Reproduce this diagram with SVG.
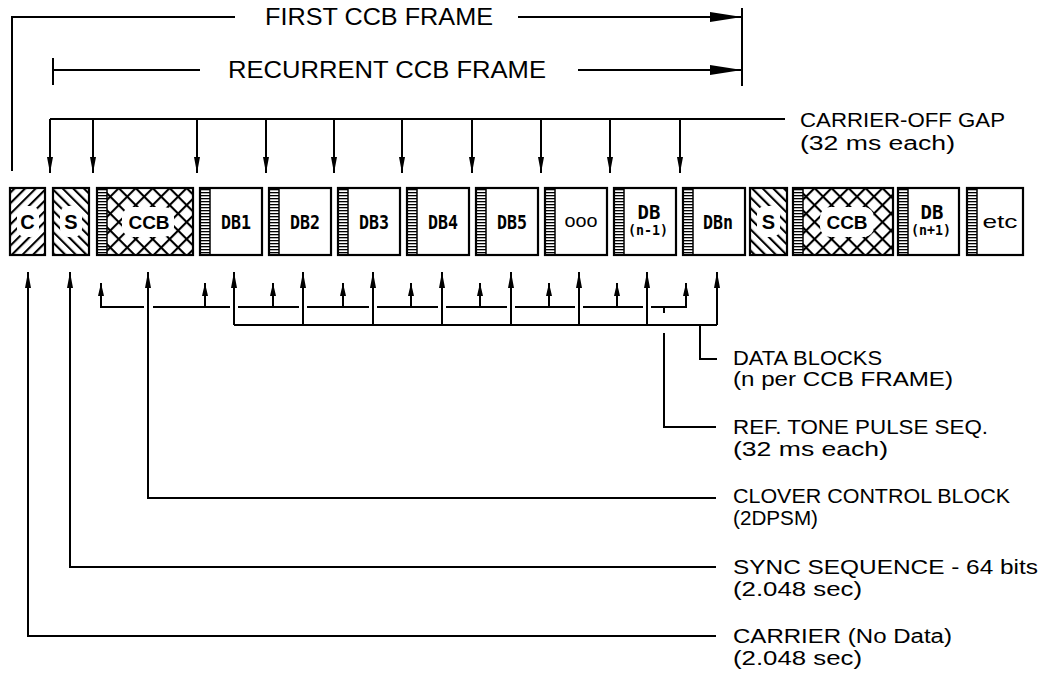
<svg xmlns="http://www.w3.org/2000/svg" width="1044" height="673" viewBox="0 0 1044 673">
<style>
.ln{fill:none;stroke:#000;stroke-width:2}
.bd{fill:none;stroke:#000;stroke-width:2.2}
.lbl{font-family:"Liberation Sans",Arial,sans-serif;font-size:20px;fill:#000}
.big{font-family:"Liberation Sans",Arial,sans-serif;font-size:23px;fill:#000}
.blk{font-family:"DejaVu Sans Mono","Liberation Mono",monospace;font-size:19px;font-weight:bold;fill:#000}
.blks{font-family:"DejaVu Sans Mono","Liberation Mono",monospace;font-size:14px;font-weight:bold;fill:#000}
.bsans{font-family:"Liberation Sans",Arial,sans-serif;font-size:20px;font-weight:bold;fill:#000}
.ccb{font-family:"Liberation Sans",Arial,sans-serif;font-size:19px;font-weight:bold;fill:#000}
.etc{font-family:"Liberation Sans",Arial,sans-serif;font-size:19px;fill:#000}
.up{marker-end:url(#ah)}
.ups{marker-end:url(#ahs)}
</style>
<defs>
<marker id="ah" viewBox="0 0 16 6" refX="16" refY="3" markerWidth="16" markerHeight="6" markerUnits="userSpaceOnUse" orient="auto"><path d="M0,0 L16,3 L0,6 z" fill="#000"/></marker>
<marker id="ahs" viewBox="0 0 13 6" refX="13" refY="3" markerWidth="13" markerHeight="6" markerUnits="userSpaceOnUse" orient="auto"><path d="M0,0 L13,3 L0,6 z" fill="#000"/></marker>
<marker id="ahb" viewBox="0 0 32 10" refX="32" refY="5" markerWidth="32" markerHeight="10" markerUnits="userSpaceOnUse" orient="auto"><path d="M0,0 L32,5 L0,10 z" fill="#000"/></marker>
<pattern id="hC" width="7.5" height="7.5" patternUnits="userSpaceOnUse" patternTransform="rotate(45)"><line x1="1" y1="0" x2="1" y2="7.5" stroke="#000" stroke-width="2.2"/></pattern>
<pattern id="hS" width="7.5" height="7.5" patternUnits="userSpaceOnUse" patternTransform="rotate(-45)"><line x1="1" y1="0" x2="1" y2="7.5" stroke="#000" stroke-width="2.2"/></pattern>
<pattern id="hX" width="12" height="12" patternUnits="userSpaceOnUse" patternTransform="rotate(45)"><line x1="1" y1="0" x2="1" y2="12" stroke="#000" stroke-width="2.2"/><line x1="0" y1="1" x2="12" y2="1" stroke="#000" stroke-width="2.2"/></pattern>
<pattern id="lad" width="10" height="3" patternUnits="userSpaceOnUse"><rect x="0" y="0" width="10" height="1.3" fill="#000"/></pattern>
</defs>
<rect width="1044" height="673" fill="#fff"/>

<g id="frame-labels">
<text class="big" x="265" y="25" textLength="228" lengthAdjust="spacingAndGlyphs">FIRST CCB FRAME</text>
<text class="big" x="228" y="78" textLength="318" lengthAdjust="spacingAndGlyphs">RECURRENT CCB FRAME</text>
<text class="lbl" x="800" y="127" textLength="205" lengthAdjust="spacingAndGlyphs">CARRIER-OFF GAP</text>
<text class="lbl" x="800" y="150" textLength="155" lengthAdjust="spacingAndGlyphs">(32 ms each)</text>
</g>

<g id="node-C">
<rect x="10" y="188" width="35" height="67" fill="url(#hC)"/>
<rect x="17" y="206" width="22" height="31" rx="8" fill="#fff"/>
<text class="bsans" x="27.5" y="229" text-anchor="middle">C</text>
<rect class="bd" x="10" y="188" width="35" height="67"/>
</g>
<g id="node-S">
<rect x="53" y="188" width="36" height="67" fill="url(#hS)"/>
<rect x="60" y="206" width="22" height="31" rx="8" fill="#fff"/>
<text class="bsans" x="71" y="229" text-anchor="middle">S</text>
<rect class="bd" x="53" y="188" width="36" height="67"/>
</g>
<g id="node-CCB">
<rect x="97" y="188" width="96" height="67" fill="url(#hX)"/>
<rect x="122" y="207" width="52" height="30" rx="10" fill="#fff"/>
<rect x="97" y="188" width="10" height="67" fill="#fff"/>
<rect x="98" y="189" width="9" height="65" fill="url(#lad)"/>
<line x1="107" y1="188" x2="107" y2="255" stroke="#000" stroke-width="1.5"/>
<text class="ccb" x="149" y="229" text-anchor="middle">CCB</text>
<rect class="bd" x="97" y="188" width="96" height="67"/>
</g>
<g id="node-DB1">
<rect x="200" y="188" width="62" height="67" fill="#fff"/>
<rect x="201" y="189" width="9" height="65" fill="url(#lad)"/>
<line x1="210" y1="188" x2="210" y2="255" stroke="#000" stroke-width="1.5"/>
<text class="blk" x="236" y="229" text-anchor="middle" textLength="30" lengthAdjust="spacingAndGlyphs">DB1</text>
<rect class="bd" x="200" y="188" width="62" height="67"/>
</g>
<g id="node-DB2">
<rect x="269" y="188" width="62" height="67" fill="#fff"/>
<rect x="270" y="189" width="9" height="65" fill="url(#lad)"/>
<line x1="279" y1="188" x2="279" y2="255" stroke="#000" stroke-width="1.5"/>
<text class="blk" x="305" y="229" text-anchor="middle" textLength="30" lengthAdjust="spacingAndGlyphs">DB2</text>
<rect class="bd" x="269" y="188" width="62" height="67"/>
</g>
<g id="node-DB3">
<rect x="338" y="188" width="62" height="67" fill="#fff"/>
<rect x="339" y="189" width="9" height="65" fill="url(#lad)"/>
<line x1="348" y1="188" x2="348" y2="255" stroke="#000" stroke-width="1.5"/>
<text class="blk" x="374" y="229" text-anchor="middle" textLength="30" lengthAdjust="spacingAndGlyphs">DB3</text>
<rect class="bd" x="338" y="188" width="62" height="67"/>
</g>
<g id="node-DB4">
<rect x="407" y="188" width="62" height="67" fill="#fff"/>
<rect x="408" y="189" width="9" height="65" fill="url(#lad)"/>
<line x1="417" y1="188" x2="417" y2="255" stroke="#000" stroke-width="1.5"/>
<text class="blk" x="443" y="229" text-anchor="middle" textLength="30" lengthAdjust="spacingAndGlyphs">DB4</text>
<rect class="bd" x="407" y="188" width="62" height="67"/>
</g>
<g id="node-DB5">
<rect x="476" y="188" width="62" height="67" fill="#fff"/>
<rect x="477" y="189" width="9" height="65" fill="url(#lad)"/>
<line x1="486" y1="188" x2="486" y2="255" stroke="#000" stroke-width="1.5"/>
<text class="blk" x="512" y="229" text-anchor="middle" textLength="30" lengthAdjust="spacingAndGlyphs">DB5</text>
<rect class="bd" x="476" y="188" width="62" height="67"/>
</g>
<g id="node-ooo">
<rect x="545" y="188" width="62" height="67" fill="#fff"/>
<rect x="546" y="189" width="9" height="65" fill="url(#lad)"/>
<line x1="555" y1="188" x2="555" y2="255" stroke="#000" stroke-width="1.5"/>
<text class="etc" x="581" y="227" text-anchor="middle" textLength="33" lengthAdjust="spacingAndGlyphs">ooo</text>
<rect class="bd" x="545" y="188" width="62" height="67"/>
</g>
<g id="node-DBn-1">
<rect x="614" y="188" width="62" height="67" fill="#fff"/>
<rect x="615" y="189" width="9" height="65" fill="url(#lad)"/>
<line x1="624" y1="188" x2="624" y2="255" stroke="#000" stroke-width="1.5"/>
<text class="blk" x="649" y="219" text-anchor="middle" font-size="17">DB</text>
<text class="blks" x="648" y="235" text-anchor="middle" textLength="40" lengthAdjust="spacingAndGlyphs">(n-1)</text>
<rect class="bd" x="614" y="188" width="62" height="67"/>
</g>
<g id="node-DBn">
<rect x="683" y="188" width="62" height="67" fill="#fff"/>
<rect x="684" y="189" width="9" height="65" fill="url(#lad)"/>
<line x1="693" y1="188" x2="693" y2="255" stroke="#000" stroke-width="1.5"/>
<text class="blk" x="718" y="229" text-anchor="middle" textLength="30" lengthAdjust="spacingAndGlyphs">DBn</text>
<rect class="bd" x="683" y="188" width="62" height="67"/>
</g>
<g id="node-S2">
<rect x="750" y="188" width="37" height="67" fill="url(#hS)"/>
<rect x="757" y="206" width="23" height="31" rx="8" fill="#fff"/>
<text class="bsans" x="768.5" y="229" text-anchor="middle">S</text>
<rect class="bd" x="750" y="188" width="37" height="67"/>
</g>
<g id="node-CCB2">
<rect x="793" y="188" width="100" height="67" fill="url(#hX)"/>
<rect x="820" y="207" width="54" height="30" rx="10" fill="#fff"/>
<rect x="793" y="188" width="10" height="67" fill="#fff"/>
<rect x="794" y="189" width="9" height="65" fill="url(#lad)"/>
<line x1="803" y1="188" x2="803" y2="255" stroke="#000" stroke-width="1.5"/>
<text class="ccb" x="847" y="229" text-anchor="middle">CCB</text>
<rect class="bd" x="793" y="188" width="100" height="67"/>
</g>
<g id="node-DBn1">
<rect x="898" y="188" width="61" height="67" fill="#fff"/>
<rect x="899" y="189" width="9" height="65" fill="url(#lad)"/>
<line x1="908" y1="188" x2="908" y2="255" stroke="#000" stroke-width="1.5"/>
<text class="blk" x="932" y="219" text-anchor="middle" font-size="17">DB</text>
<text class="blks" x="931" y="235" text-anchor="middle" textLength="40" lengthAdjust="spacingAndGlyphs">(n+1)</text>
<rect class="bd" x="898" y="188" width="61" height="67"/>
</g>
<g id="node-etc">
<rect x="967" y="188" width="56" height="67" fill="#fff"/>
<rect x="968" y="189" width="9" height="65" fill="url(#lad)"/>
<line x1="977" y1="188" x2="977" y2="255" stroke="#000" stroke-width="1.5"/>
<text class="etc" x="1000" y="228" text-anchor="middle" textLength="35" lengthAdjust="spacingAndGlyphs">etc</text>
<rect class="bd" x="967" y="188" width="56" height="67"/>
</g>

<g id="legend-labels">
<text class="lbl" x="733" y="365" textLength="149" lengthAdjust="spacingAndGlyphs">DATA BLOCKS</text>
<text class="lbl" x="733" y="386" textLength="220" lengthAdjust="spacingAndGlyphs">(n per CCB FRAME)</text>
<text class="lbl" x="733" y="434" textLength="255" lengthAdjust="spacingAndGlyphs">REF. TONE PULSE SEQ.</text>
<text class="lbl" x="733" y="456" textLength="155" lengthAdjust="spacingAndGlyphs">(32 ms each)</text>
<text class="lbl" x="733" y="503" textLength="277" lengthAdjust="spacingAndGlyphs">CLOVER CONTROL BLOCK</text>
<text class="lbl" x="733" y="525" textLength="85" lengthAdjust="spacingAndGlyphs">(2DPSM)</text>
<text class="lbl" x="733" y="574" textLength="305" lengthAdjust="spacingAndGlyphs">SYNC SEQUENCE - 64 bits</text>
<text class="lbl" x="733" y="596" textLength="129" lengthAdjust="spacingAndGlyphs">(2.048 sec)</text>
<text class="lbl" x="733" y="643" textLength="219" lengthAdjust="spacingAndGlyphs">CARRIER (No Data)</text>
<text class="lbl" x="733" y="665" textLength="129" lengthAdjust="spacingAndGlyphs">(2.048 sec)</text>
</g>

<g id="connectors">
<path class="ln" d="M12,171 V17 H235"/>
<path class="ln" d="M518,17 H742" marker-end="url(#ahb)"/>
<path class="ln" d="M742,8 V86"/>
<path class="ln" d="M53,58 V85 M53,70 H200"/>
<path class="ln" d="M578,70 H742" marker-end="url(#ahb)"/>
<path class="ln" d="M50,119 H785"/>
<path class="ln up" d="M50,119 V173"/>
<path class="ln up" d="M93,119 V173"/>
<path class="ln up" d="M197,119 V173"/>
<path class="ln up" d="M266,119 V173"/>
<path class="ln up" d="M334,119 V173"/>
<path class="ln up" d="M402,119 V173"/>
<path class="ln up" d="M472,119 V173"/>
<path class="ln up" d="M541,119 V173"/>
<path class="ln up" d="M610,119 V173"/>
<path class="ln up" d="M680,119 V173"/>

<path class="ln up" d="M716,636 H28 V272"/>
<path class="ln up" d="M716,567 H70 V272"/>
<path class="ln up" d="M716,498 H148 V272"/>

<path class="ln" d="M234,325 H717"/>
<path class="ln up" d="M234,325 V272"/>
<path class="ln up" d="M303,325 V272"/>
<path class="ln up" d="M373,325 V272"/>
<path class="ln up" d="M442,325 V272"/>
<path class="ln up" d="M511,325 V272"/>
<path class="ln up" d="M579,325 V272"/>
<path class="ln up" d="M647,325 V272"/>
<path class="ln up" d="M717,325 V272"/>
<path class="ln" d="M700,325 V359 H717"/>

<path class="ln" d="M144,307 H101 M153,307 H230 M238,307 H299 M307,307 H369 M377,307 H438 M446,307 H507 M515,307 H575 M583,307 H643 M651,307 H686"/>
<path class="ln ups" d="M101,308 V283"/>
<path class="ln ups" d="M205,307 V283"/>
<path class="ln ups" d="M273,307 V283"/>
<path class="ln ups" d="M343,307 V283"/>
<path class="ln ups" d="M411,307 V283"/>
<path class="ln ups" d="M480,307 V283"/>
<path class="ln ups" d="M549,307 V283"/>
<path class="ln ups" d="M617,307 V283"/>
<path class="ln ups" d="M686,308 V283"/>
<path class="ln" d="M664,307 V313"/>
<path class="ln" d="M664,333 V427 H716"/>
</g>
</svg>
